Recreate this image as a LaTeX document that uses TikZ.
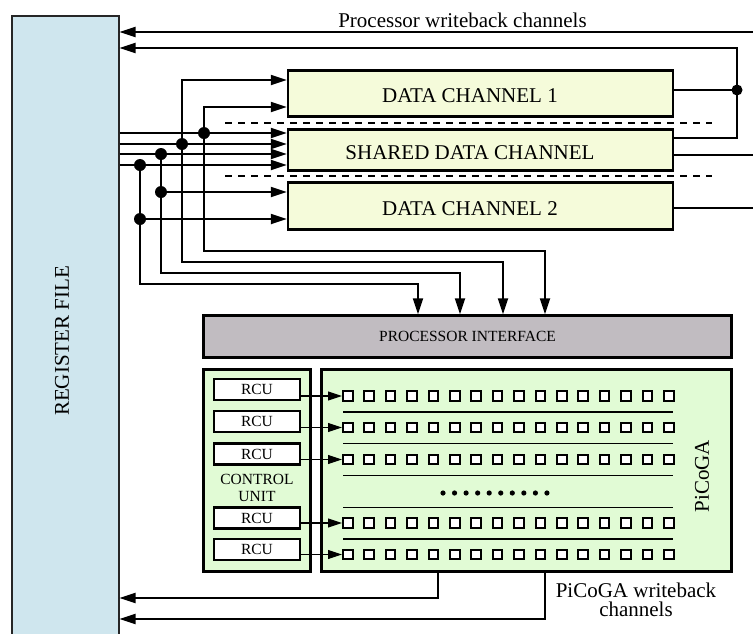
\documentclass[tikz,border=0pt]{standalone}
\usepackage{fontspec}
\setmainfont{Liberation Serif}
\usetikzlibrary{arrows.meta}
\definecolor{rfblue}{RGB}{207,230,238}
\definecolor{chyellow}{RGB}{245,251,218}
\definecolor{ifgray}{RGB}{193,188,193}
\definecolor{pgreen}{RGB}{225,251,213}
\begin{document}
\begin{tikzpicture}[x=1pt,y=-1pt,
  big/.style={font=\fontsize{21}{19}\selectfont},
  small/.style={font=\fontsize{15.5}{17}\selectfont},
  wire/.style={line width=2pt},
  arr/.style={-{Triangle[length=16pt,width=10pt]}},
  thinarr/.style={line width=1.1pt,-{Triangle[length=14pt,width=9pt]}},
  blockbox/.style={draw=black,line width=2.3pt,inner sep=0pt},
  chan/.style={blockbox,fill=chyellow,minimum width=385pt},
  rcubox/.style={draw=black,line width=2.1pt,fill=white,inner sep=0pt,
                 minimum width=86pt,minimum height=21pt,small},
  cell/.style={draw=black,line width=2pt,fill=white,inner sep=0pt,minimum size=9.5pt},
  sepdash/.style={line width=1.7pt,dash pattern=on 7pt off 6pt},
  rowsep/.style={line width=1.2pt},
  tap/.style={fill=black}]
\useasboundingbox (0,0) rectangle (753,633);

% register file
\node[draw=black!85,line width=2pt,fill=rfblue,inner sep=0pt,
      minimum width=107pt,minimum height=650pt] (rf) at (65,341) {};
\node[big,rotate=90] (rflbl) at (62,341) {REGISTER FILE};

% data channels
\node[chan,minimum height=46pt] (dc1) at (480.5,93.5) {};
\node[chan,minimum height=41pt] (sdc) at (480.5,150) {};
\node[chan,minimum height=47pt] (dc2) at (480.5,206) {};
\node[big] (dc1lbl) at (470,96) {DATA CHANNEL 1};
\node[big] (sdclbl) at (470,153) {SHARED DATA CHANNEL};
\node[big] (dc2lbl) at (470,208.5) {DATA CHANNEL 2};
\draw[sepdash] (225,123) -- (712,123);
\draw[sepdash] (225,176) -- (712,176);

% processor writeback channels
\node[big,anchor=base] (wblbl) at (462.5,27) {Processor writeback channels};
\coordinate (wbin) at (753,32);
\coordinate (bus) at (737,48);
\coordinate (jn) at (737,90);
\coordinate (outS) at (753,155);
\coordinate (out2) at (753,208);
\draw[wire,arr] (wbin) -- (wbin -| rf.east);
\draw[wire,arr] (sdc.east |- 0,138) -| (bus) -- (bus -| rf.east);
\draw[wire] (dc1.east |- jn) -- (jn);
\fill[tap] (jn) circle (5.5);
\draw[wire] (sdc.east |- outS) -- (outS);
\draw[wire] (dc2.east |- out2) -- (out2);

% operand buses from the register file
\coordinate (tA) at (204,133);
\coordinate (tB) at (182,144);
\coordinate (tC) at (161,154);
\coordinate (tD) at (140,165);
\coordinate (tC2) at (161,192);
\coordinate (tD2) at (140,219);
\foreach \t in {tA,tB,tC,tD}
  \draw[wire,arr] (rf.east |- \t) -- (sdc.west |- \t);
\draw[wire,arr] (tA) |- (dc1.west |- 0,107);
\draw[wire,arr] (tB) |- (dc1.west |- 0,80);
\draw[wire,arr] (tC2) -- (dc2.west |- tC2);
\draw[wire,arr] (tD2) -- (dc2.west |- tD2);

% processor interface
\node[blockbox,fill=ifgray,minimum width=528pt,minimum height=42pt,small]
  (pi) at (467.5,336.5) {PROCESSOR INTERFACE};
\draw[wire,arr] (tA) |- (545,251) -- (pi.north -| 545,0);
\draw[wire,arr] (tB) |- (503,262) -- (pi.north -| 503,0);
\draw[wire,arr] (tC) |- (460,273) -- (pi.north -| 460,0);
\draw[wire,arr] (tD) |- (418,284) -- (pi.north -| 418,0);
\foreach \t in {tA,tB,tC,tD,tC2,tD2}
  \fill[tap] (\t) circle (6);

% control unit
\node[blockbox,fill=pgreen,minimum width=107pt,minimum height=202pt] (cu) at (257,470.5) {};
\node[small,align=center] (culbl) at (257,488) {CONTROL\\UNIT};
\foreach \i/\y in {1/389.7,2/421.7,3/454,4/518,5/549.7}
  \node[rcubox] (rcu\i) at (257,\y) {RCU};

% PiCoGA array
\node[blockbox,fill=pgreen,minimum width=410pt,minimum height=202pt] (pg) at (526.5,470.5) {};
\node[big,rotate=90] (pglbl) at (702,476) {PiCoGA};
\foreach \r/\y in {1/396,2/427.5,3/459.5,4/523,5/554.5}{
  \foreach \c in {1,...,16}
    \node[cell] (c\r-\c) at ({347.75+(\c-1)*21.4},\y) {};
  \draw[thinarr] (rcu\r.east |- c\r-1.west) -- (c\r-1.west);
}
\foreach \y in {412,443.5,475.5,507.5,539}
  \draw[rowsep] (343,\y) -- (673,\y);
\foreach \k in {0,...,9}
  \fill ({443+\k*11.55},493) circle (2.6);

% PiCoGA writeback channels
\draw[wire,arr] (pg.south -| 438,0) |- (rf.east |- 0,598);
\draw[wire,arr] (pg.south -| 545,0) |- (rf.east |- 0,619);
\node[big,align=center] (pgwb) at (636,600) {PiCoGA writeback\\channels};
\end{tikzpicture}
\end{document}
